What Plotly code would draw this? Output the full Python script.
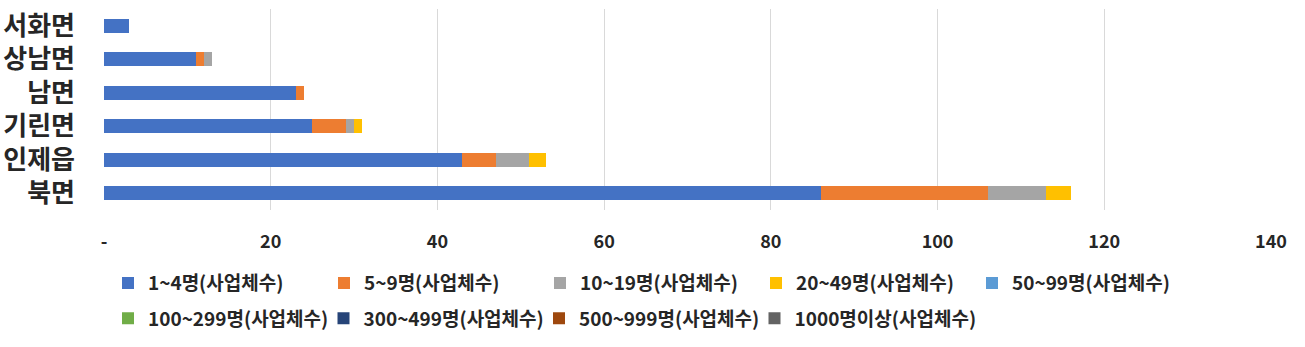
import plotly.graph_objects as go

regions = ["서화면", "상남면", "남면", "기린면", "인제읍", "북면"]
series_names = ["1~4명(사업체수)", "5~9명(사업체수)", "10~19명(사업체수)", "20~49명(사업체수)",
                "50~99명(사업체수)", "100~299명(사업체수)", "300~499명(사업체수)",
                "500~999명(사업체수)", "1000명이상(사업체수)"]
s_1_4 = [3, 11, 23, 25, 43, 86]
s_5_9 = [0, 1, 1, 4, 4, 20]
s_10_19 = [0, 1, 0, 1, 4, 7]
s_20_49 = [0, 0, 0, 1, 2, 3]
s_50_99 = [0, 0, 0, 0, 0, 0]
s_100_299 = [0, 0, 0, 0, 0, 0]
s_300_499 = [0, 0, 0, 0, 0, 0]
s_500_999 = [0, 0, 0, 0, 0, 0]
s_1000 = [0, 0, 0, 0, 0, 0]
series_values = [s_1_4, s_5_9, s_10_19, s_20_49, s_50_99, s_100_299, s_300_499, s_500_999, s_1000]
x_tickvals = [0, 20, 40, 60, 80, 100, 120, 140]
x_ticktext = ["-", "20", "40", "60", "80", "100", "120", "140"]

colors = ["#4472C4", "#ED7D31", "#A5A5A5", "#FFC000", "#5B9BD5",
          "#70AD47", "#264478", "#9E480E", "#636363"]

FONT = "Noto Sans CJK KR, Noto Sans, sans-serif"

PLOT_W = 1305 - 104 - 34
PLOT_H = 215 - 9
ENTRY = 215.5

# row 1 in one legend; each row-2 entry in its own legend so no label is clipped
legend_ids = ["legend"] * 5 + ["legend2", "legend3", "legend4", "legend5"]

fig = go.Figure()
for i, (name, vals) in enumerate(zip(series_names, series_values)):
    fig.add_trace(go.Bar(
        y=regions, x=vals, name=name, orientation="h",
        marker=dict(color=colors[i], line=dict(width=0)),
        legend=legend_ids[i],
    ))

legend_common = dict(
    orientation="h", xanchor="left", yanchor="middle",
    font=dict(family=FONT, size=19, color="#262626", weight="bold"),
    entrywidth=171, entrywidthmode="pixels",
    bgcolor="rgba(0,0,0,0)", borderwidth=0, traceorder="normal",
    itemclick=False, itemdoubleclick=False,
)
single = {**legend_common, "entrywidth": 230}
lx = 4 / PLOT_W
row1 = (215 - 290) / PLOT_H
row2 = (215 - 326) / PLOT_H

fig.update_layout(
    width=1305, height=347,
    margin=dict(l=104, r=34, t=9, b=132),
    barmode="stack", bargap=0.59,
    plot_bgcolor="white", paper_bgcolor="white",
    font=dict(family=FONT, color="#262626"),
    xaxis=dict(
        range=[0, 140], tickvals=x_tickvals, ticktext=x_ticktext,
        showgrid=True, gridcolor="#D9D9D9", gridwidth=1,
        zeroline=False, showline=False, ticks="",
        tickfont=dict(family=FONT, size=18, color="#262626", weight="bold"),
        ticklabelstandoff=19, automargin=False,
    ),
    yaxis=dict(
        autorange="reversed", showgrid=False, zeroline=False, showline=False,
        ticks="", tickfont=dict(family=FONT, size=26, color="#262626", weight="bold"),
        ticklabelstandoff=28, automargin=False,
    ),
    legend=dict(x=lx, y=row1, **legend_common),
    legend2=dict(x=lx, y=row2, **single),
    legend3=dict(x=lx + 1 * ENTRY / PLOT_W, y=row2, **single),
    legend4=dict(x=lx + 2 * ENTRY / PLOT_W, y=row2, **single),
    legend5=dict(x=lx + 3 * ENTRY / PLOT_W, y=row2, **single),
    showlegend=True,
)

fig.write_html("out.html")
